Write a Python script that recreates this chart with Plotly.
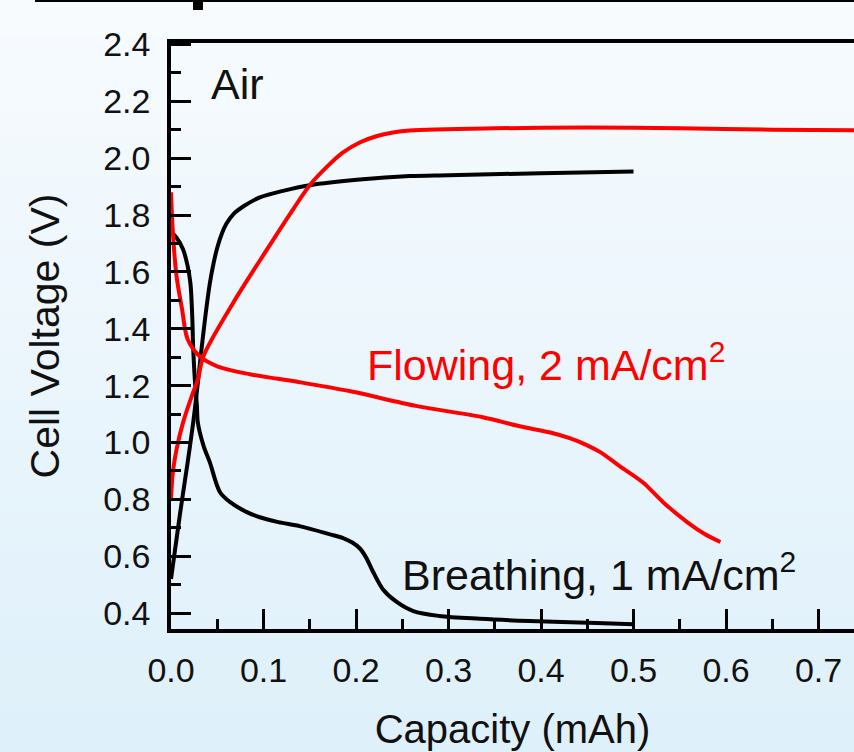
import plotly.graph_objects as go

# Charge / discharge curves, capacity in mAh, voltage in V
breathing_dis_cap = [0.0, 0.006, 0.013, 0.018, 0.021, 0.023, 0.024, 0.026, 0.028, 0.029,
                     0.035, 0.042, 0.053, 0.064, 0.082, 0.096, 0.116, 0.14, 0.172, 0.186,
                     0.196, 0.204, 0.211, 0.218, 0.229, 0.244, 0.262, 0.29, 0.334, 0.388,
                     0.46, 0.5]
breathing_dis_v = [1.74, 1.72, 1.68, 1.62, 1.56, 1.44, 1.33, 1.21, 1.13, 1.07,
                   0.99, 0.93, 0.825, 0.79, 0.755, 0.737, 0.72, 0.705, 0.677, 0.664,
                   0.648, 0.628, 0.595, 0.548, 0.484, 0.439, 0.407, 0.39, 0.38, 0.372,
                   0.365, 0.361]

breathing_chg_cap = [0.0, 0.01, 0.018, 0.024, 0.028, 0.031, 0.037, 0.042, 0.046, 0.05,
                     0.055, 0.06, 0.068, 0.078, 0.096, 0.121, 0.15, 0.204, 0.258, 0.3,
                     0.4, 0.5]
breathing_chg_v = [0.52, 0.755, 0.93, 1.07, 1.18, 1.27, 1.44, 1.56, 1.63, 1.685,
                   1.735, 1.77, 1.805, 1.83, 1.862, 1.885, 1.905, 1.925, 1.937, 1.94,
                   1.947, 1.953]

flowing_dis_cap = [0.0, 0.002, 0.006, 0.012, 0.018, 0.031, 0.05, 0.085, 0.139, 0.194,
                   0.266, 0.337, 0.377, 0.41, 0.431, 0.45, 0.464, 0.485, 0.51, 0.532,
                   0.558, 0.576, 0.594]
flowing_dis_v = [1.88, 1.74, 1.585, 1.468, 1.363, 1.303, 1.268, 1.24, 1.212, 1.18,
                 1.128, 1.089, 1.057, 1.035, 1.015, 0.99, 0.966, 0.917, 0.86, 0.79,
                 0.72, 0.68, 0.65]

flowing_chg_cap = [0.0, 0.002, 0.006, 0.013, 0.024, 0.029, 0.035, 0.067, 0.104, 0.132,
                   0.15, 0.169, 0.186, 0.204, 0.222, 0.24, 0.258, 0.35, 0.45, 0.55,
                   0.65, 0.74]
flowing_chg_v = [0.80, 0.895, 0.976, 1.07, 1.177, 1.22, 1.303, 1.49, 1.68, 1.82,
                 1.905, 1.971, 2.02, 2.055, 2.077, 2.09, 2.097, 2.105, 2.108, 2.105,
                 2.10, 2.098]

x_ticks = [0.0, 0.1, 0.2, 0.3, 0.4, 0.5, 0.6, 0.7]
y_ticks = [0.4, 0.6, 0.8, 1.0, 1.2, 1.4, 1.6, 1.8, 2.0, 2.2, 2.4]

W, H = 854, 752
L, R, T, B = 171, 0, 43, 123
FONT = "Liberation Sans, Arial, sans-serif"

fig = go.Figure()

def curve(x, y, color):
    fig.add_trace(go.Scatter(x=x, y=y, mode="lines",
                             line=dict(color=color, width=4, shape="spline", smoothing=0.9),
                             hoverinfo="skip", showlegend=False))

curve(breathing_dis_cap, breathing_dis_v, "black")
curve(breathing_chg_cap, breathing_chg_v, "black")
curve(flowing_dis_cap, flowing_dis_v, "#ff0000")
curve(flowing_chg_cap, flowing_chg_v, "#ff0000")

# light vertical gradient behind everything
shapes = []
n = 60
top_c = (247, 251, 254)
bot_c = (222, 240, 250)
pw, ph = W - L - R, H - T - B
def px2paper_x(px):
    return (px - L) / pw
def px2paper_y(py):
    return (H - B - py) / ph
for i in range(n):
    f = i / (n - 1)
    c = tuple(round(top_c[k] + (bot_c[k] - top_c[k]) * f) for k in range(3))
    y0 = i * H / n
    y1 = (i + 1) * H / n + 1
    shapes.append(dict(type="rect", xref="paper", yref="paper", layer="below",
                       x0=px2paper_x(0), x1=px2paper_x(W),
                       y0=px2paper_y(y1), y1=px2paper_y(y0),
                       fillcolor="rgb(%d,%d,%d)" % c, line=dict(width=0)))

# rule along the top edge of the page
shapes.append(dict(type="rect", xref="paper", yref="paper",
                   x0=px2paper_x(35), x1=px2paper_x(W),
                   y0=px2paper_y(2), y1=px2paper_y(-2),
                   fillcolor="black", line=dict(width=0)))
shapes.append(dict(type="rect", xref="paper", yref="paper",
                   x0=px2paper_x(193), x1=px2paper_x(203),
                   y0=px2paper_y(10), y1=px2paper_y(-2),
                   fillcolor="black", line=dict(width=0)))

axis_common = dict(showline=True, linecolor="black", linewidth=3.5,
                   ticks="inside", tickcolor="black", tickwidth=3, ticklen=20,
                   showgrid=False, zeroline=False,
                   tickfont=dict(family=FONT, size=34, color="#111"))

fig.update_layout(
    width=W, height=H,
    margin=dict(l=L, r=R, t=T, b=B, pad=0),
    paper_bgcolor="rgb(235,245,252)",
    plot_bgcolor="rgba(0,0,0,0)",
    shapes=shapes,
    xaxis=dict(axis_common, range=[0, (W - L) / 925.0], mirror=True,
               tickvals=x_ticks, ticktext=["%.1f" % v for v in x_ticks],
               minor=dict(ticks="inside", ticklen=10, tickwidth=3, tickcolor="black", dtick=0.05),
               ticklabelstandoff=8,
               title=dict(text="Capacity (mAh)", font=dict(family=FONT, size=40, color="#111"),
                          standoff=28)),
    yaxis=dict(axis_common, range=[0.344, 2.405],
               tickvals=y_ticks, ticktext=["%.1f" % v for v in y_ticks],
               minor=dict(ticks="inside", ticklen=10, tickwidth=3, tickcolor="black", dtick=0.1),
               ticklabelstandoff=10,
               title=dict(text="Cell Voltage (V)", font=dict(family=FONT, size=41, color="#111"),
                          standoff=32)),
    annotations=[
        dict(text="Air", x=0.041, y=2.262, xref="x", yref="y", xanchor="left", yanchor="middle",
             showarrow=False, font=dict(family=FONT, size=43, color="#111")),
        dict(text="Flowing, 2 mA/cm<sup>2</sup>", x=0.21, y=1.283, xref="x", yref="y",
             xanchor="left", yanchor="middle", showarrow=False,
             font=dict(family=FONT, size=43, color="#ff0000")),
        dict(text="Breathing, 1 mA/cm<sup>2</sup>", x=0.248, y=0.543, xref="x", yref="y",
             xanchor="left", yanchor="middle", showarrow=False,
             font=dict(family=FONT, size=43, color="#111")),
    ],
)

fig.write_html("out.html")
